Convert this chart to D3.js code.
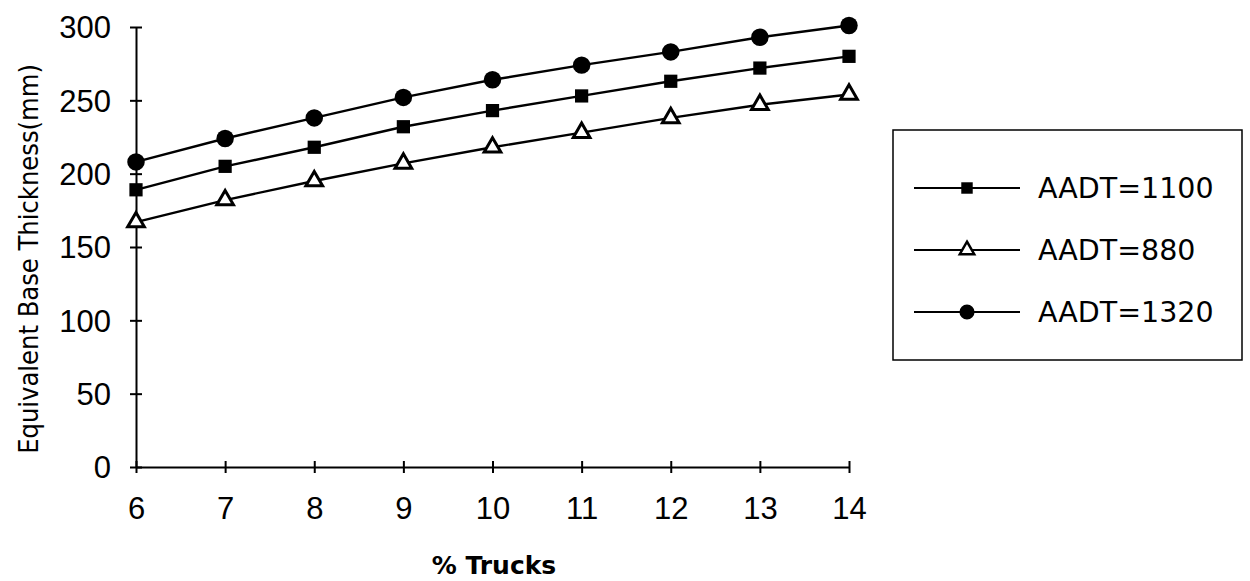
<!DOCTYPE html>
<html>
<head>
<meta charset="utf-8">
<script src="https://cdn.jsdelivr.net/npm/d3@7"></script>
<style>
  body { margin: 0; background: #fff; }
  svg { display: block; }
  text { fill: #000; }
</style>
</head>
<body>
<div id="chart"></div>
<script>
const width = 1250;
const height = 581;
const marginLeft = 136;
const marginTop = 27;
const plotWidth = 713;
const plotHeight = 440;

const trucks = [6, 7, 8, 9, 10, 11, 12, 13, 14];
const aadt1100 = [189, 205, 218, 232, 243, 253, 263, 272, 280];
const aadt880 = [167, 182, 195, 207, 218, 228, 238, 247, 254];
const aadt1320 = [208, 224, 238, 252, 264, 274, 283, 293, 301];
const seriesNames = ['AADT=1100', 'AADT=880', 'AADT=1320'];
const yTicks = [0, 50, 100, 150, 200, 250, 300];

const tickFont = 'Liberation Sans, sans-serif';

const series = [
  { name: seriesNames[0], values: aadt1100, symbol: d3.symbolSquare, size: 175, fill: '#000' },
  { name: seriesNames[1], values: aadt880, symbol: d3.symbolTriangle, size: 120, fill: '#fff' },
  { name: seriesNames[2], values: aadt1320, symbol: d3.symbolCircle, size: 240, fill: '#000' },
];

const svg = d3
  .select('#chart')
  .append('svg')
  .attr('width', width)
  .attr('height', height);

const xScale = d3.scaleLinear().domain([6, 14]).range([0, plotWidth]);
const yScale = d3.scaleLinear().domain([0, 300]).range([plotHeight, 0]);

const plot = svg.append('g').attr('transform', `translate(${marginLeft}, ${marginTop})`);

// axes with crossing ticks
const xAxis = d3.axisBottom(xScale).tickValues(trucks).tickSize(0).tickPadding(30);
const yAxis = d3.axisLeft(yScale).tickValues(yTicks).tickSize(0).tickPadding(25);

const gx = plot
  .append('g')
  .attr('transform', `translate(0, ${plotHeight})`)
  .call(xAxis);
gx.select('.domain').attr('stroke', '#000').attr('stroke-width', 2);
gx.selectAll('.tick')
  .append('line')
  .attr('y1', -6)
  .attr('y2', 6)
  .attr('stroke', '#000')
  .attr('stroke-width', 2);
gx.selectAll('.tick text')
  .attr('font-family', tickFont)
  .attr('font-size', 31);

const gy = plot.append('g').call(yAxis);
gy.select('.domain').attr('stroke', '#000').attr('stroke-width', 2);
gy.selectAll('.tick')
  .append('line')
  .attr('x1', -6)
  .attr('x2', 6)
  .attr('stroke', '#000')
  .attr('stroke-width', 2);
gy.selectAll('.tick text')
  .attr('font-family', tickFont)
  .attr('font-size', 31)
  .attr('dy', '0.35em');

// axis titles
svg
  .append('text')
  .attr('transform', `translate(38, ${marginTop + plotHeight / 2 + 12}) rotate(-90)`)
  .attr('text-anchor', 'middle')
  .attr('font-family', 'DejaVu Sans Condensed, sans-serif')
  .attr('font-size', 27)
  .text('Equivalent Base Thickness(mm)');

svg
  .append('text')
  .attr('x', 494)
  .attr('y', 574)
  .attr('text-anchor', 'middle')
  .attr('font-family', 'DejaVu Sans, sans-serif')
  .attr('font-weight', 'bold')
  .attr('font-size', 25)
  .text('% Trucks');

// lines and markers
const line = d3
  .line()
  .x((d, i) => xScale(trucks[i]))
  .y((d) => yScale(d));

series.forEach((s) => {
  plot
    .append('path')
    .datum(s.values)
    .attr('d', line)
    .attr('fill', 'none')
    .attr('stroke', '#000')
    .attr('stroke-width', 2.4);

  plot
    .append('g')
    .selectAll('path')
    .data(s.values)
    .enter()
    .append('path')
    .attr('transform', (d, i) => `translate(${xScale(trucks[i])}, ${yScale(d)})`)
    .attr('d', d3.symbol().type(s.symbol).size(s.size))
    .attr('fill', s.fill)
    .attr('stroke', '#000')
    .attr('stroke-width', s.fill === '#fff' ? 3 : 0);
});

// legend
const legend = svg.append('g').attr('transform', 'translate(893, 130)');
legend
  .append('rect')
  .attr('width', 349)
  .attr('height', 230)
  .attr('fill', 'none')
  .attr('stroke', '#000')
  .attr('stroke-width', 1.5);

series.forEach((s, i) => {
  const row = legend.append('g').attr('transform', `translate(0, ${58 + i * 62})`);
  row
    .append('line')
    .attr('x1', 21)
    .attr('x2', 127)
    .attr('stroke', '#000')
    .attr('stroke-width', 2);
  row
    .append('path')
    .attr('transform', 'translate(74, 0)')
    .attr('d', d3.symbol().type(s.symbol).size(s.size * 0.75))
    .attr('fill', s.fill)
    .attr('stroke', '#000')
    .attr('stroke-width', s.fill === '#fff' ? 2.5 : 0);
  row
    .append('text')
    .attr('x', 145)
    .attr('dy', '0.35em')
    .attr('font-family', 'DejaVu Sans, sans-serif')
    .attr('font-size', 28.5)
    .text(s.name);
});
</script>
</body>
</html>
